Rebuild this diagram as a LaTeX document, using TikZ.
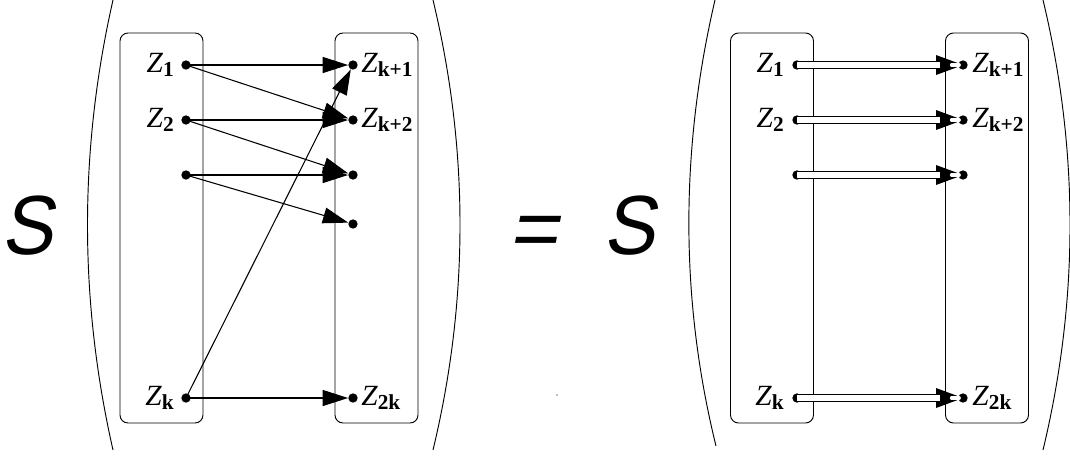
\documentclass[tikz,border=0pt]{standalone}
\usepackage{fontspec}
\setmainfont{Liberation Serif}
\newfontfamily\sansit{Liberation Sans}[FakeSlant=0.2]
\usetikzlibrary{arrows.meta}
\tikzset{
  box/.style={draw, line width=0.7pt, rounded corners=6pt, minimum width=62.25pt, minimum height=292.5pt, inner sep=0pt},
  dot/.style={circle, fill=black, inner sep=0pt, minimum size=7pt},
  arr/.style={line width=0.8pt, -{Triangle[length=19pt,width=12pt]}},
  dbl/.style={line width=0.9pt, double distance=3.8pt, shorten >=17pt},
  headfill/.style={fill=black},
  notch/.style={draw=white, line width=2.8pt, line cap=round, shorten <=116pt, shorten >=3pt},
  lbl/.style={inner sep=0pt, font=\fontsize{22}{24}\selectfont},
  big/.style={inner sep=0pt, font=\sansit\fontsize{63}{63}\selectfont},
  paren/.style={line width=0.7pt}
}
\newcommand{\zl}[1]{\textit{Z}\raisebox{-0.35ex}{\fontsize{16}{16}\selectfont\bfseries #1}}
\newcommand{\nS}{\scalebox{0.92}[1]{S}}
\begin{document}
\begin{tikzpicture}[x=0.75pt,y=-0.75pt]
\useasboundingbox (0,0) rectangle (1070,458);
% ---------- left side ----------
\node[big, anchor=base] (S1) at (27,254) {\nS};
\draw[paren] (113,0) .. controls (79,150) and (79,300) .. (113,450);
\draw[paren] (433,0) .. controls (469,150) and (469,300) .. (433,450);
\node[box] (B1) at (161.5,228) {};
\node[box] (B2) at (376.5,228) {};
\node[dot] (a1) at (186,65) {};
\node[dot] (a2) at (186,120) {};
\node[dot] (a3) at (186,175) {};
\node[dot] (ak) at (186,398) {};
\node[dot] (b1) at (353,65) {};
\node[dot] (b2) at (353,120) {};
\node[dot] (b3) at (353,175) {};
\node[dot] (b4) at (353,224) {};
\node[dot] (bk) at (353,398) {};
\node[lbl, anchor=base east] (la1) at (174,72) {\zl{1}};
\node[lbl, anchor=base east] (la2) at (174,127) {\zl{2}};
\node[lbl, anchor=base east] (lak) at (174,405) {\zl{k}};
\node[lbl, anchor=base west] (lb1) at (361,72) {\zl{k+1}};
\node[lbl, anchor=base west] (lb2) at (361,127) {\zl{k+2}};
\node[lbl, anchor=base west] (lbk) at (361,405) {\zl{2k}};
\draw[arr] (a1.center) -- (b1);
\draw[arr] (a1.center) -- (b2);
\draw[arr] (a2.center) -- (b2);
\draw[arr] (a2.center) -- (b3);
\draw[arr] (a3.center) -- (b3);
\draw[arr] (a3.center) -- (b4);
\draw[arr] (ak.center) -- (b1);
\draw[arr] (ak.center) -- (bk);
% ---------- middle ----------
\node[big, anchor=base] (EQ) at (533,257) {=};
\node[big, anchor=base] (S2) at (629,254) {\nS};
\node[circle, fill=gray, inner sep=0pt, minimum size=1.2pt] (spk) at (557,395) {};
% ---------- right side ----------
\draw[paren] (715,0) .. controls (680,150) and (680,300) .. (716,446);
\draw[paren] (1043,0) .. controls (1079,150) and (1079,300) .. (1043,450);
\node[box] (C1) at (772,228) {};
\node[box] (C2) at (987,228) {};
\node[dot] (c1) at (797,65) {};
\node[dot] (c2) at (797,120) {};
\node[dot] (c3) at (797,175) {};
\node[dot] (ck) at (797,398) {};
\node[dot] (d1) at (963,65) {};
\node[dot] (d2) at (963,120) {};
\node[dot] (d3) at (963,175) {};
\node[dot] (dk) at (963,398) {};
\node[lbl, anchor=base east] (lc1) at (784,72) {\zl{1}};
\node[lbl, anchor=base east] (lc2) at (784,127) {\zl{2}};
\node[lbl, anchor=base east] (lck) at (784,405) {\zl{k}};
\node[lbl, anchor=base west] (ld1) at (972,72) {\zl{k+1}};
\node[lbl, anchor=base west] (ld2) at (972,127) {\zl{k+2}};
\node[lbl, anchor=base west] (ldk) at (972,405) {\zl{2k}};
\fill[headfill] (d1.center) -- ++(-27,-10) -- ++(0,20) -- cycle;
\fill[headfill] (d2.center) -- ++(-27,-10) -- ++(0,20) -- cycle;
\fill[headfill] (d3.center) -- ++(-27,-10) -- ++(0,20) -- cycle;
\fill[headfill] (dk.center) -- ++(-27,-10) -- ++(0,20) -- cycle;
\draw[dbl] (c1.center) -- (d1.center);
\draw[dbl] (c2.center) -- (d2.center);
\draw[dbl] (c3.center) -- (d3.center);
\draw[dbl] (ck.center) -- (dk.center);
\draw[notch] (c1.center) -- (d1.center);
\draw[notch] (c2.center) -- (d2.center);
\draw[notch] (c3.center) -- (d3.center);
\draw[notch] (ck.center) -- (dk.center);
\end{tikzpicture}
\end{document}
